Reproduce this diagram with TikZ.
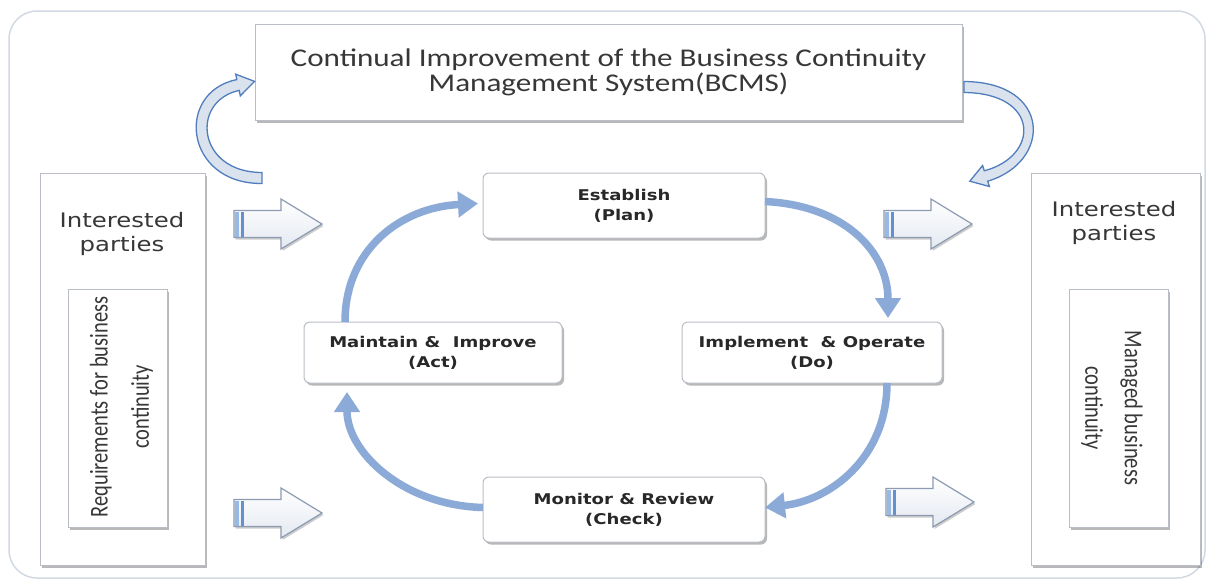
\documentclass[tikz,border=0pt]{standalone}
\usepackage{fontspec}
\usetikzlibrary{arrows.meta,shadows,calc}
\newfontfamily\topfont[FakeStretch=1.22]{Carlito}
\newfontfamily\rotfont{Carlito}
\newfontfamily\cycfont[FakeStretch=1.22]{DejaVu Sans}
\definecolor{cycblue}{RGB}{140,170,215}
\definecolor{boxline}{RGB}{185,190,198}
\definecolor{txt}{RGB}{55,55,55}
\definecolor{cyctxt}{RGB}{40,40,40}
\definecolor{frameline}{RGB}{210,217,226}
\definecolor{curvline}{RGB}{80,125,190}
\definecolor{curvfill}{RGB}{218,226,238}
\definecolor{barline}{RGB}{140,155,178}
\definecolor{barfill}{RGB}{228,233,241}
\definecolor{stripeA}{RGB}{150,185,230}
\definecolor{stripeB}{RGB}{100,145,205}
\tikzset{
  boxshadow/.style={drop shadow={shadow xshift=2pt,shadow yshift=-2.5pt,opacity=0.28,fill=black}},
  outerbox/.style={draw=boxline,line width=1pt,fill=white,boxshadow,inner sep=0pt,outer sep=0pt},
  cycbox/.style={draw=boxline,line width=1pt,fill=white,rounded corners=6pt,boxshadow,inner sep=0pt,outer sep=0pt,
     align=center,text=cyctxt,font=\cycfont\bfseries\fontsize{14.8}{20}\selectfont},
  iptext/.style={align=center,text=txt,font=\cycfont\fontsize{20}{23.5}\selectfont},
  cycarrow/.style={draw=cycblue,line width=7.5pt,-{Triangle[width=25pt,length=20pt]}},
  barrow/.style={draw=barline,line width=1.2pt,top color=white,bottom color=barfill,
     drop shadow={shadow xshift=1.5pt,shadow yshift=-2pt,opacity=0.2,fill=black}},
  curvarrow/.style={draw=curvline,line width=1.3pt,fill=curvfill}
}
\newcommand{\blkarrow}[2]{%
  \begin{scope}[shift={(#1,#2)}]
    \path[barrow] (0,-13.5) -- (47,-13.5) -- (47,-25) -- (88,0) -- (47,25) -- (47,13.5) -- (0,13.5) -- cycle;
    \fill[stripeA] (1,-12.5) rectangle (5,12.5);
    \fill[stripeB] (7,-12.5) rectangle (10,12.5);
  \end{scope}}
\begin{document}
\begin{tikzpicture}[x=1pt,y=-1pt]
\useasboundingbox (0,0) rectangle (1208,581);
\fill[white] (0,0) rectangle (1208,581);
\draw[frameline,line width=1.5pt,rounded corners=28pt] (9,11) rectangle (1205,578);

% top box
\node[outerbox,minimum width=707pt,minimum height=96pt,align=center,text=txt,
      font=\topfont\fontsize{25.5}{25}\selectfont] (top) at (608.5,72)
  {Continual Improvement of the Business Continuity\\Management System(BCMS)};

% side boxes
\node[outerbox,minimum width=165pt,minimum height=392pt] (lout) at (122.5,369) {};
\node[outerbox,minimum width=99pt,minimum height=238pt] (lin) at (117.5,408) {};
\node[outerbox,minimum width=169pt,minimum height=392pt] (rout) at (1115.5,369) {};
\node[outerbox,minimum width=99pt,minimum height=238pt] (rin) at (1118.5,408) {};

\node[iptext] (ipl) at (122,234) {Interested\\parties};
\node[iptext] (ipr) at (1114,223) {Interested\\parties};

\node[rotate=90,text=txt,inner sep=0pt] (rql) at (120,407)
  {\scalebox{1}[1.25]{\rotfont\fontsize{20.5}{33}\selectfont\begin{tabular}{@{}c@{}}Requirements for business\\continuity\end{tabular}}};
\node[rotate=-90,text=txt,inner sep=0pt] (mbc) at (1113,408)
  {\scalebox{1}[1.25]{\rotfont\fontsize{20.5}{31.5}\selectfont\begin{tabular}{@{}c@{}}Managed business\\continuity\end{tabular}}};

% cycle boxes
\node[cycbox,minimum width=282pt,minimum height=65pt] (est) at (624,205.5) {Establish\\(Plan)};
\node[cycbox,minimum width=258pt,minimum height=61pt] (mai) at (433,352.5) {Maintain \& ~Improve\\(Act)};
\node[cycbox,minimum width=260pt,minimum height=61pt] (imp) at (812,352.5) {Implement~ \& Operate\\(Do)};
\node[cycbox,minimum width=282pt,minimum height=65pt] (mon) at (624,509.5) {Monitor \& Review\\(Check)};

% cycle arrows
\draw[cycarrow] ([yshift=4pt]est.east) .. controls +(80,4) and +(0,-66) .. ([xshift=76pt,yshift=4pt]imp.north);
\draw[cycarrow] ([xshift=75pt]imp.south) .. controls +(0,75) and +(65,-7) .. ([yshift=2pt]mon.east);
\draw[cycarrow] ([yshift=2pt]mon.west) .. controls +(-80,-2) and +(0,60) .. ([xshift=-86pt,yshift=-9pt]mai.south);
\draw[cycarrow] ([xshift=-88pt]mai.north) .. controls +(0,-72) and +(-78,4) .. ([xshift=-5pt,yshift=2pt]est.west);

% block arrows
\blkarrow{234}{224}
\blkarrow{234}{513}
\blkarrow{884}{224}
\blkarrow{886}{502}

% curved arrows
\path[curvarrow] (262,183.5) .. controls (184,184) and (175,92) .. (236.8,79.6)
  -- (235.7,74.2) -- (254.6,81.4) -- (240.3,95.8) -- (239.2,90.4)
  .. controls (190,101) and (197,172.5) .. (262,172.5) -- cycle;
\path[curvarrow] (964,81.5) .. controls (1052,82) and (1052,162) .. (987.7,181.2)
  -- (989.4,186.5) -- (969.8,181.2) -- (982.6,165.5) -- (984.3,170.8)
  .. controls (1040,156) and (1040,93) .. (964,92.5) -- cycle;
\end{tikzpicture}
\end{document}
